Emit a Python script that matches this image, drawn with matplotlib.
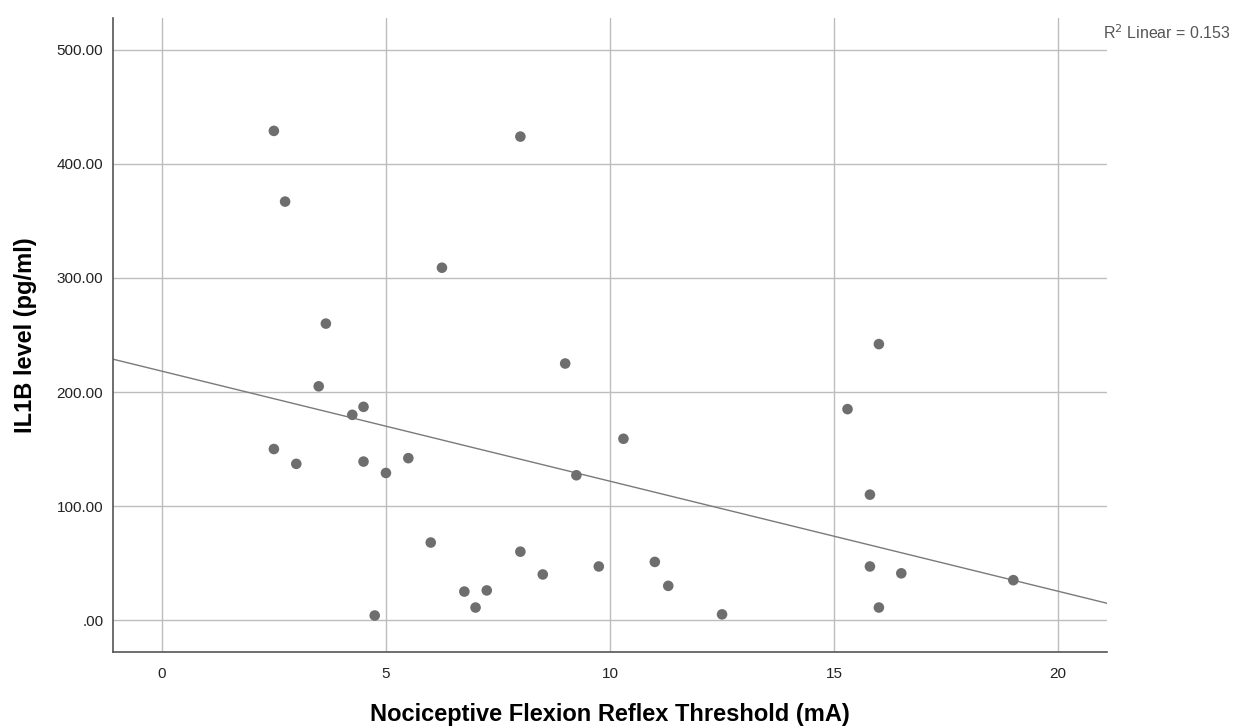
import numpy as np
import matplotlib
matplotlib.use('Agg')
import matplotlib.pyplot as plt

# NFR threshold (mA) and IL1B level (pg/ml)
nfr_threshold = [2.5, 2.75, 8.0, 6.25, 3.66, 3.5, 9.0, 4.25, 4.5, 4.5, 5.0, 5.5,
                 6.0, 6.75, 7.0, 7.25, 8.0, 8.5, 9.25, 9.75, 10.3, 11.0, 11.3,
                 12.5, 4.75, 2.5, 3.0, 15.3, 16.0, 15.8, 15.8, 16.0, 16.5, 19.0]
il1b_level = [429, 367, 424, 309, 260, 205, 225, 180, 187, 139, 129, 142,
              68, 25, 11, 26, 60, 40, 127, 47, 159, 51, 30,
              5, 4, 150, 137, 185, 242, 110, 47, 11, 41, 35]

x_ticks = [0, 5, 10, 15, 20]
y_ticks = [0, 100, 200, 300, 400, 500]
y_tick_labels = ['.00', '100.00', '200.00', '300.00', '400.00', '500.00']
r2_label = 'R$^2$ Linear = 0.153'

plt.rcParams['font.family'] = ['Liberation Sans', 'DejaVu Sans']

x = np.array(nfr_threshold)
y = np.array(il1b_level)
slope, intercept = np.polyfit(x, y, 1)

fig = plt.figure(figsize=(12.36, 7.26), dpi=100)
# axes box in pixels: left 113, right 1107, top 18, bottom 652
ax = fig.add_axes([113 / 1236, 1 - 652 / 726, 994 / 1236, 634 / 726])

xlim = (-1.09, 21.09)
ax.set_xlim(xlim)
ax.set_ylim(-28, 528)

for xv in x_ticks:
    ax.axvline(xv, color='#bdbdbd', lw=1, zorder=1)
for yv in y_ticks:
    ax.axhline(yv, color='#bdbdbd', lw=1, zorder=1)

# least-squares fit line across the full x range
xs = np.array(xlim)
ax.plot(xs, intercept + slope * xs, color='#7a7a7a', lw=1, zorder=2)
ax.scatter(x, y, s=58, color='#6e6e6e', edgecolors='none', zorder=3)

ax.set_xticks(x_ticks)
ax.set_yticks(y_ticks)
ax.set_yticklabels(y_tick_labels)
ax.tick_params(length=0, labelsize=11, colors='#222222')
ax.tick_params(axis='x', pad=11)
ax.tick_params(axis='y', pad=7)

for side in ['top', 'right']:
    ax.spines[side].set_visible(False)
for side in ['left', 'bottom']:
    ax.spines[side].set_color('#555555')
    ax.spines[side].set_linewidth(1.2)

ax.set_xlabel('Nociceptive Flexion Reflex Threshold (mA)', fontsize=17,
              fontweight='bold', labelpad=16)
ax.set_ylabel('IL1B level (pg/ml)', fontsize=17, fontweight='bold', labelpad=14)

fig.text(1103 / 1236, 1 - 33 / 726, r2_label, fontsize=11.5, color='#555555',
         va='center', ha='left')

fig.savefig('out.png', dpi=100)
